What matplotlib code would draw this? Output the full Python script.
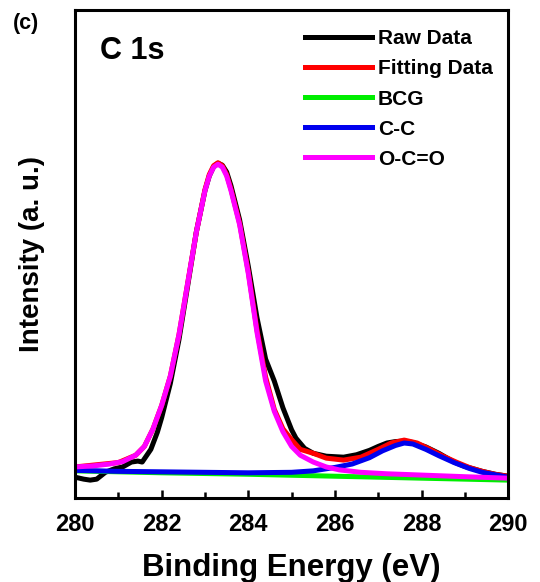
import matplotlib
matplotlib.use('Agg')
import matplotlib.pyplot as plt
from matplotlib.ticker import MultipleLocator

plt.rcParams['font.family'] = ['Liberation Sans', 'DejaVu Sans']
plt.rcParams['font.weight'] = 'bold'

# binding energy (eV) / intensity (a. u.)
raw_e = [280.0, 280.2, 280.35, 280.5, 280.7, 280.9, 281.1, 281.3, 281.45, 281.55,
         281.75, 281.9, 282.0, 282.2, 282.4, 282.6, 282.8, 283.0, 283.1, 283.2,
         283.3, 283.4, 283.5, 283.6, 283.8, 284.0, 284.2, 284.4, 284.6, 284.8,
         285.0, 285.1, 285.3, 285.5, 285.8, 286.0, 286.2, 286.5, 286.8, 287.0,
         287.2, 287.4, 287.6, 287.8, 288.1, 288.4, 288.75, 289.0, 289.4, 289.7, 290.0]
raw_i = [4.3, 3.9, 3.7, 3.9, 5.3, 6.0, 6.4, 7.4, 7.6, 7.4,
         10.0, 13.5, 16.5, 23.5, 32.5, 43.5, 54.5, 63.0, 66.0, 67.9,
         68.6, 68.2, 66.8, 64.0, 57.0, 47.5, 37.0, 28.5, 24.0, 18.5,
         14.0, 12.3, 10.2, 9.2, 8.6, 8.5, 8.4, 8.9, 9.8, 10.6,
         11.3, 11.6, 11.7, 11.4, 10.5, 9.2, 7.4, 6.5, 5.5, 4.9, 4.5]

fit_e = [280.0, 281.0, 281.4, 281.6, 281.8, 282.0, 282.2, 282.4, 282.6, 282.8,
         283.0, 283.1, 283.2, 283.3, 283.4, 283.5, 283.6, 283.8, 284.0, 284.2,
         284.4, 284.6, 284.8, 285.0, 285.2, 285.5, 285.8, 286.2, 286.6, 287.0,
         287.3, 287.6, 287.9, 288.2, 288.5, 288.8, 289.1, 289.4, 289.7, 290.0]
fit_i = [6.4, 7.3, 8.8, 10.6, 14.2, 19.0, 25.0, 33.5, 44.0, 54.5,
         63.2, 66.3, 68.1, 68.7, 68.1, 66.3, 63.3, 56.3, 46.4, 34.5,
         24.8, 18.2, 14.2, 12.0, 10.0, 9.2, 8.2, 7.8, 8.4, 10.0,
         11.3, 11.9, 11.3, 10.0, 8.6, 7.4, 6.3, 5.5, 4.9, 4.5]

bcg_e = [280.0, 282.0, 284.0, 286.0, 288.0, 290.0]
bcg_i = [5.6, 5.2, 4.9, 4.5, 4.1, 3.7]

cc_e = [280.0, 281.0, 282.0, 283.0, 284.0, 285.0, 285.5, 286.0, 286.4, 286.8,
        287.1, 287.4, 287.6, 287.8, 288.1, 288.4, 288.75, 289.1, 289.4, 289.7, 290.0]
cc_i = [5.7, 5.5, 5.4, 5.3, 5.2, 5.3, 5.6, 6.3, 7.0, 8.3,
        9.7, 10.8, 11.3, 11.1, 10.0, 8.7, 7.3, 6.1, 5.3, 4.8, 4.3]

oco_e = [280.0, 280.4, 280.8, 281.1, 281.4, 281.6, 281.8, 282.0, 282.2, 282.4,
         282.6, 282.8, 283.0, 283.1, 283.2, 283.3, 283.4, 283.5, 283.6, 283.8,
         284.0, 284.2, 284.4, 284.6, 284.8, 285.0, 285.2, 285.5, 285.8, 286.1,
         286.6, 287.2, 288.1, 289.0, 290.0]
oco_i = [6.4, 6.6, 7.0, 7.5, 8.8, 10.6, 14.2, 19.0, 25.0, 33.5,
         44.0, 54.5, 63.0, 66.0, 67.8, 68.4, 67.8, 66.0, 63.0, 56.0,
         46.0, 34.0, 24.0, 17.8, 13.6, 10.6, 8.8, 7.4, 6.4, 5.8,
         5.3, 5.0, 4.7, 4.4, 4.1]

fig = plt.figure(figsize=(5.4, 5.82), dpi=100)
ax = fig.add_axes([0.139, 0.144, 0.802, 0.839])

lw = 3.6
ax.plot(raw_e, raw_i, '-', color='black', lw=lw, label='Raw Data')
ax.plot(fit_e, fit_i, '-', color='red', lw=lw, label='Fitting Data')
ax.plot(bcg_e, bcg_i, '-', color='#00ee00', lw=lw, label='BCG')
ax.plot(cc_e, cc_i, '-', color='#0000ee', lw=lw, label='C-C')
ax.plot(oco_e, oco_i, '-', color='#ff00ff', lw=lw, label='O-C=O')

ax.set_xlim(280, 290)
ax.set_ylim(0, 100)
ax.xaxis.set_major_locator(MultipleLocator(2))
ax.xaxis.set_minor_locator(MultipleLocator(1))
ax.tick_params(axis='x', which='both', direction='in', top=False, width=1.8,
               labelsize=17, pad=11)
ax.tick_params(axis='x', which='major', length=6)
ax.tick_params(axis='x', which='minor', length=4)
ax.set_yticks([])
for lab in ax.get_xticklabels():
    lab.set_fontweight('bold')
for sp in ax.spines.values():
    sp.set_linewidth(2.2)

ax.set_xlabel('Binding Energy (eV)', fontsize=22.5, fontweight='bold', labelpad=12)
ax.set_ylabel('Intensity (a. u.)', fontsize=20, fontweight='bold', labelpad=22)

ax.text(0.058, 0.915, 'C 1s', transform=ax.transAxes, fontsize=22,
        fontweight='bold', va='center', ha='left')
fig.text(0.024, 0.96, '(c)', fontsize=15.5, fontweight='bold', va='center', ha='left')

leg = ax.legend(loc='upper left', bbox_to_anchor=(0.531, 0.96), frameon=False,
                fontsize=15, handlelength=3.2, handletextpad=0.3,
                labelspacing=0.53, borderpad=0, borderaxespad=0)
for t in leg.get_texts():
    t.set_fontweight('bold')

fig.savefig('out.png', dpi=100)
